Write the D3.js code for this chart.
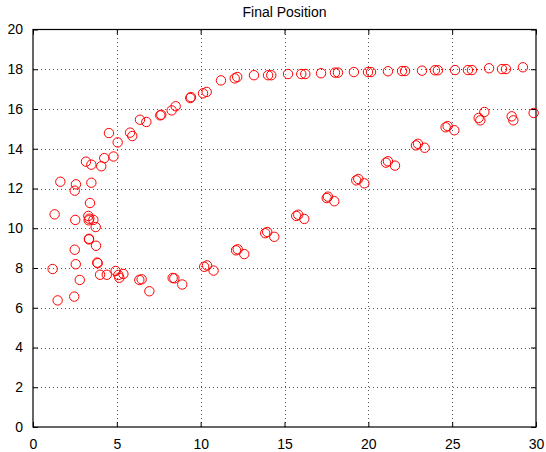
<!DOCTYPE html>
<html>
<head>
<meta charset="utf-8">
<script src="https://cdn.jsdelivr.net/npm/d3@7"></script>
<style>
  body { margin: 0; background: #fff; }
  svg { display: block; }
  text { font-family: "Liberation Sans", Arial, Helvetica, sans-serif; }
</style>
</head>
<body>
<svg id="chart" width="546" height="452"></svg>
<script>
// ---- data ----
const title = "Final Position";
const xTicks = [0, 5, 10, 15, 20, 25, 30];
const yTicks = [0, 2, 4, 6, 8, 10, 12, 14, 16, 18, 20];

const xUpper = [3.16, 3.48, 4.07, 4.25, 4.80, 4.53, 5.05, 5.79, 5.92, 6.38, 6.76, 7.59, 7.65, 8.27, 8.51, 9.38, 9.42,
  10.14, 10.36, 11.21, 12.03, 12.18, 13.18, 14.02, 14.21, 15.21, 16.00, 16.24, 17.18, 18.01, 18.19, 19.14, 19.98,
  20.16, 21.17, 22.01, 22.19, 23.20, 23.97, 24.15, 25.17, 25.94, 26.18, 27.20, 27.97, 28.21, 29.22];
const yUpper = [13.35, 13.20, 13.12, 13.53, 13.61, 14.79, 14.32, 14.81, 14.64, 15.46, 15.35, 15.68, 15.71, 15.93, 16.14, 16.55, 16.60,
  16.79, 16.86, 17.44, 17.54, 17.61, 17.70, 17.70, 17.70, 17.76, 17.76, 17.76, 17.80, 17.83, 17.83, 17.86, 17.86,
  17.86, 17.90, 17.91, 17.91, 17.93, 17.95, 17.95, 17.96, 17.96, 17.96, 18.05, 18.01, 18.01, 18.10];

const xCluster = [1.63, 2.56, 2.49, 3.48, 3.40, 1.29, 2.52, 3.30, 3.36, 3.32, 3.60, 3.74, 3.34, 3.34, 3.76, 2.49,
  2.55, 3.83, 3.86, 1.17, 2.79, 1.47, 2.46];
const yCluster = [12.34, 12.21, 11.89, 12.29, 11.27, 10.70, 10.42, 10.62, 10.48, 10.40, 10.42, 10.06, 9.47, 9.44, 9.12, 8.92,
  8.19, 8.27, 8.24, 7.95, 7.40, 6.37, 6.56];

const xLower = [4.00, 4.40, 4.93, 5.09, 5.15, 5.39, 6.34, 6.48, 6.94, 8.33, 8.43, 8.90, 10.21, 10.38, 10.77,
  12.11, 12.21, 12.60, 13.85, 13.97, 14.39, 15.70, 15.82, 16.18, 17.52, 17.59, 17.97, 19.28, 19.40, 19.76,
  21.05, 21.17, 21.59, 22.84, 22.96, 23.36, 24.61, 24.73, 25.13, 26.58, 26.68, 26.92, 28.55, 28.65, 29.86];
const yLower = [7.66, 7.66, 7.85, 7.65, 7.51, 7.70, 7.40, 7.43, 6.83, 7.50, 7.48, 7.17, 8.06, 8.13, 7.87,
  8.89, 8.94, 8.70, 9.75, 9.81, 9.57, 10.62, 10.68, 10.47, 11.52, 11.59, 11.36, 12.41, 12.48, 12.26,
  13.30, 13.37, 13.15, 14.17, 14.25, 14.05, 15.08, 15.14, 14.93, 15.55, 15.43, 15.85, 15.63, 15.43, 15.80];

// ---- layout ----
const L = 33, R = 536, T = 29.5, B = 427;
const svg = d3.select("#chart");
const x = d3.scaleLinear().domain([0, 30]).range([L, R]);
const y = d3.scaleLinear().domain([0, 20]).range([B, T]);

// grid
const grid = svg.append("g").attr("stroke", "#555").attr("stroke-width", 1)
  .attr("stroke-dasharray", "1,3").attr("shape-rendering", "crispEdges");
grid.selectAll("line.gx").data(xTicks.slice(1, -1)).join("line")
  .attr("x1", d => Math.round(x(d)) + 0.5).attr("x2", d => Math.round(x(d)) + 0.5)
  .attr("y1", T).attr("y2", B);
grid.selectAll("line.gy").data(yTicks.slice(1, -1)).join("line")
  .attr("y1", d => Math.round(y(d)) + 0.5).attr("y2", d => Math.round(y(d)) + 0.5)
  .attr("x1", L).attr("x2", R);

// axes (ticks inside, all four sides)
const tl = 5;
const fmt = d3.format("d");
const axB = svg.append("g").attr("transform", `translate(0,${B})`)
  .call(d3.axisBottom(x).tickValues(xTicks).tickSizeInner(-tl).tickSizeOuter(0).tickPadding(12).tickFormat(fmt));
const axT = svg.append("g").attr("transform", `translate(0,${T})`)
  .call(d3.axisTop(x).tickValues(xTicks).tickSizeInner(-tl).tickSizeOuter(0).tickFormat(""));
const axL = svg.append("g").attr("transform", `translate(${L},0)`)
  .call(d3.axisLeft(y).tickValues(yTicks).tickSizeInner(-tl).tickSizeOuter(0).tickPadding(10).tickFormat(fmt));
const axR = svg.append("g").attr("transform", `translate(${R},0)`)
  .call(d3.axisRight(y).tickValues(yTicks).tickSizeInner(-tl).tickSizeOuter(0).tickFormat(""));
[axB, axT, axL, axR].forEach(a => {
  a.select(".domain").remove();
  a.selectAll("line").attr("stroke", "#000");
  a.selectAll("text").attr("font-size", 14).attr("fill", "#000")
    .attr("font-family", "'Liberation Sans', Arial, Helvetica, sans-serif");
});
// box
svg.append("rect").attr("x", L).attr("y", T).attr("width", R - L).attr("height", B - T)
  .attr("fill", "none").attr("stroke", "#000").attr("stroke-width", 1.2);

// points
const pts = [];
[[xUpper, yUpper], [xCluster, yCluster], [xLower, yLower]].forEach(([xs, ys]) => {
  xs.forEach((v, i) => pts.push([v, ys[i]]));
});
svg.append("g").selectAll("circle").data(pts).join("circle")
  .attr("cx", d => x(d[0])).attr("cy", d => y(d[1])).attr("r", 4.7)
  .attr("fill", "none").attr("stroke", "#ff0000").attr("stroke-width", 1);

// title
svg.append("text").attr("x", (L + R) / 2).attr("y", 17).attr("text-anchor", "middle")
  .attr("font-size", 14).attr("fill", "#000").text(title);
</script>
</body>
</html>
